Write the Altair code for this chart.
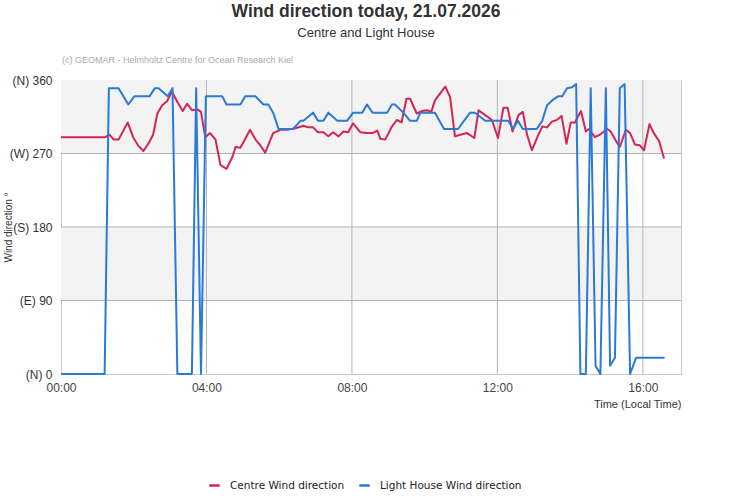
import altair as alt
import pandas as pd

DAY = "2026-07-21T"

# Centre (red) readings
centre_times = ["00:00", "01:13", "01:20", "01:27", "01:35", "01:50", "01:59", "02:07", "02:16", "02:25",
                "02:32", "02:39", "02:47", "02:55", "03:03", "03:12", "03:21", "03:28", "03:36", "03:45",
                "03:51", "03:58", "04:06", "04:15", "04:23", "04:33", "04:43", "04:48", "04:56", "05:12",
                "05:21", "05:29", "05:37", "05:50", "06:02", "06:13", "06:27", "06:40", "06:48", "06:56",
                "07:04", "07:13", "07:21", "07:29", "07:38", "07:46", "07:54", "08:02", "08:14", "08:25",
                "08:34", "08:42", "08:47", "08:55", "09:06", "09:14", "09:22", "09:30", "09:36", "09:47",
                "09:55", "10:04", "10:11", "10:17", "10:26", "10:34", "10:42", "10:50", "10:59", "11:10",
                "11:22", "11:29", "11:40", "11:51", "12:01", "12:10", "12:17", "12:25", "12:35", "12:42",
                "12:49", "12:57", "13:06", "13:14", "13:22", "13:30", "13:38", "13:46", "13:54", "14:01",
                "14:08", "14:18", "14:26", "14:31", "14:41", "14:49", "15:01", "15:07", "15:16", "15:22",
                "15:32", "15:39", "15:47", "15:55", "16:02", "16:11", "16:18", "16:27", "16:35"]
centre_values = [290, 290, 293, 287, 287, 308, 290, 280, 273, 283,
                 293, 319, 329, 334, 346, 333, 322, 331, 323, 324,
                 321, 290, 295, 287, 256, 251, 266, 278, 277, 299,
                 287, 280, 271, 295, 299, 299, 301, 304, 302, 302,
                 296, 296, 291, 296, 291, 297, 296, 307, 296, 295,
                 295, 298, 288, 287, 303, 311, 308, 337, 337, 319,
                 322, 323, 321, 335, 344, 352, 339, 291, 293, 295,
                 289, 323, 317, 311, 289, 326, 326, 297, 317, 321,
                 293, 274, 290, 303, 302, 309, 311, 316, 282, 308,
                 308, 322, 297, 300, 290, 293, 300, 297, 285, 278,
                 299, 295, 281, 280, 274, 306, 295, 285, 264]

# Light House (blue) readings
light_times = ["00:00", "01:12", "01:19", "01:35", "01:51", "02:01", "02:26", "02:35", "02:41", "02:56",
               "03:04", "03:12", "03:36", "03:43", "03:51", "03:59", "04:26", "04:33", "04:56", "05:04",
               "05:21", "05:34", "05:42", "05:50", "05:59", "06:23", "06:35", "06:40", "06:56", "07:04",
               "07:13", "07:21", "07:36", "07:52", "08:02", "08:17", "08:25", "08:34", "08:58", "09:06",
               "09:11", "09:25", "09:36", "09:47", "09:53", "10:17", "10:32", "10:55", "11:15", "11:23",
               "11:40", "12:18", "12:26", "12:34", "12:42", "13:05", "13:14", "13:22", "13:32", "13:40",
               "13:47", "13:55", "14:03", "14:10", "14:17", "14:26", "14:34", "14:42", "14:50", "14:59",
               "15:06", "15:14", "15:22", "15:30", "15:39", "15:49", "16:36"]
light_values = [0, 0, 350, 350, 330, 340, 340, 350, 350, 340,
                350, 0, 0, 350, 0, 340, 340, 330, 330, 340,
                340, 330, 330, 320, 300, 300, 310, 310, 320, 310,
                310, 320, 310, 310, 320, 320, 330, 320, 320, 330,
                330, 320, 310, 310, 320, 320, 300, 300, 320, 320,
                310, 310, 300, 310, 300, 300, 310, 329, 336, 340,
                340, 350, 351, 355, 0, 0, 350, 10, 0, 350,
                10, 20, 350, 355, 0, 20, 20]

series_names = ["Centre Wind direction", "Light House Wind direction"]
series_colors = ["#d42553", "#2a7ad6"]

y_ticks = [0, 90, 180, 270, 360]
y_tick_labels = ["(N) 0", "(E) 90", "(S) 180", "(W) 270", "(N) 360"]
band_low = [270, 90]
band_high = [360, 180]
y_grid = [90, 180, 270]
x_tick_hours = [0, 4, 8, 12, 16]
x_grid_hours = [4, 8, 12, 16]

df = pd.concat([
    pd.DataFrame({"time": [DAY + t for t in centre_times], "value": centre_values, "series": series_names[0]}),
    pd.DataFrame({"time": [DAY + t for t in light_times], "value": light_values, "series": series_names[1]}),
], ignore_index=True)

bands = pd.DataFrame({"lo": band_low, "hi": band_high})
ygrid_df = pd.DataFrame({"v": y_grid})
xgrid_df = pd.DataFrame({"t": [DAY + f"{h:02d}:00" for h in x_grid_hours]})

W, H = 620, 294
x_dom = [alt.DateTime(year=2026, month=7, date=21, hours=0, minutes=0),
         alt.DateTime(year=2026, month=7, date=21, hours=17, minutes=3)]
x_scale = alt.Scale(domain=x_dom)
y_scale = alt.Scale(domain=[0, 360], nice=False)

label_map = "{" + ",".join(f"'{v}':'{l}'" for v, l in zip(y_ticks, y_tick_labels)) + "}"

band_layer = alt.Chart(bands).mark_rect(color="#f3f3f3").encode(
    x=alt.value(0), x2=alt.value(W),
    y=alt.Y("lo:Q", scale=y_scale), y2="hi:Q")

ygrid_layer = alt.Chart(ygrid_df).mark_rule(color="#b3b3b3", strokeWidth=1).encode(
    y=alt.Y("v:Q", scale=y_scale))
xgrid_layer = alt.Chart(xgrid_df).mark_rule(color="#b3b3b3", strokeWidth=1).encode(
    x=alt.X("t:T", scale=x_scale))

lines = alt.Chart(df).mark_line(strokeWidth=2, strokeJoin="round").encode(
    x=alt.X("time:T", scale=x_scale,
            axis=alt.Axis(values=[alt.DateTime(year=2026, month=7, date=21, hours=h) for h in x_tick_hours],
                          format="%H:%M", title="Time (Local Time)", grid=False, ticks=False,
                          labelPadding=8, labelFontSize=12, labelColor="#444", labelFont="Liberation Sans",
                          titleFont="Liberation Sans", titleFontSize=11, titleFontWeight="normal",
                          titleColor="#333", titleAnchor="end", titleAlign="right", titleX=W, titleY=30,
                          titleBaseline="middle", domainColor="#cccccc", labelFlush=False)),
    y=alt.Y("value:Q", scale=y_scale,
            axis=alt.Axis(values=y_ticks, labelExpr=f"{label_map}[datum.value]", title="Wind direction °",
                          grid=False, ticks=False, labelPadding=9, labelFontSize=12, labelColor="#333",
                          labelFont="Liberation Sans", titleFont="Liberation Sans", titleFontSize=10,
                          titleFontWeight="normal", titleColor="#333", titleX=-53, titleY=H / 2,
                          titleAngle=270, titleAlign="center", titleBaseline="middle",
                          domainColor="#cccccc")),
    color=alt.Color("series:N", scale=alt.Scale(domain=series_names, range=series_colors),
                    legend=alt.Legend(orient="none", legendX=147, legendY=399, direction="horizontal",
                                      title=None, symbolType="stroke", symbolStrokeWidth=2.5,
                                      symbolSize=110, labelFont="DejaVu Sans", labelFontSize=10.5,
                                      labelColor="#222", labelOffset=9, columnPadding=9, padding=0)),
)

credit = alt.Chart(pd.DataFrame({"t": ["(c) GEOMAR - Helmholtz Centre for Ocean Research Kiel"]})).mark_text(
    align="left", baseline="middle", fontSize=9, color="#aaaaaa", font="Liberation Sans").encode(
    text="t:N", x=alt.value(1), y=alt.value(-20))

chart = alt.layer(band_layer, ygrid_layer, xgrid_layer, lines, credit).properties(
    width=W, height=H,
    autosize=alt.AutoSizeParams(type="none"),
    padding={"left": 61, "top": 80, "right": 50, "bottom": 126},
    title=alt.TitleParams(text="Wind direction today, 21.07.2026", subtitle="Centre and Light House",
                          anchor="middle", frame="group", dx=-5, offset=16,
                          font="Liberation Sans", fontSize=17.5, fontWeight="bold", color="#333",
                          subtitleFont="Liberation Sans", subtitleFontSize=13, subtitleColor="#333",
                          subtitlePadding=7),
).configure_view(stroke="#cccccc", strokeWidth=1)

chart.save("out.html", embed_options={"renderer": "svg", "actions": False})
